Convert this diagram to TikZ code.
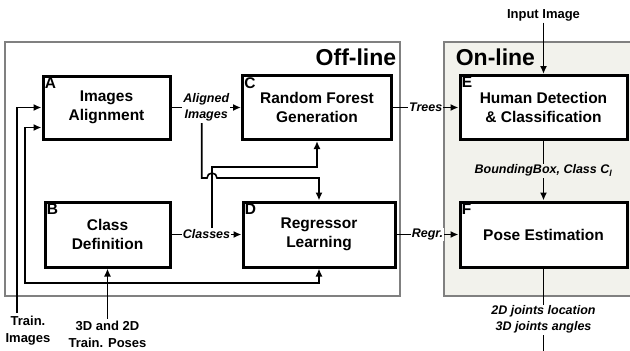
\documentclass[tikz,border=0pt]{standalone}
\usepackage{fontspec}
\setmainfont{Liberation Sans}
\usetikzlibrary{arrows.meta,calc}

\definecolor{framegray}{RGB}{128,128,128}
\definecolor{onfill}{RGB}{242,242,236}

\begin{document}
\begin{tikzpicture}[x=1pt,y=-1pt,>={Latex[length=8pt,width=7pt]},line width=1.6pt,
    block/.style={draw,fill=white,line width=3pt,align=center,inner sep=0pt,
                  font=\fontsize{15.5}{19}\selectfont\bfseries},
    tag/.style={anchor=north west,inner sep=2.5pt,font=\fontsize{15.5}{15}\selectfont\bfseries},
    lbl/.style={fill=white,align=center,inner sep=1pt,
                font=\fontsize{12.5}{16}\selectfont\bfseries\itshape},
    ext/.style={align=center,inner sep=1pt,font=\fontsize{13}{17}\selectfont\bfseries},
    title/.style={inner sep=0pt,font=\fontsize{23}{23}\selectfont\bfseries}]

  \useasboundingbox (0,0) rectangle (630,351);
  \clip (0,0) rectangle (630,351);

  % off-line and on-line frames
  \fill[onfill] (444,42) rectangle (640,296);
  \draw[framegray,line width=1.2pt] (640,42) -- (444,42) -- (444,296) -- (640,296);
  \draw[framegray,line width=1.2pt,fill=white] (5,42) rectangle (400,296);
  \node[title,anchor=base east] (offl) at (397,65) {Off-line};
  \node[title,anchor=base west] (onl)  at (455,65) {On-line};

  \node[block,minimum width=127pt,minimum height=63pt] (A) at (106.5,107.5) {Images\\Alignment};
  \node[block,minimum width=125pt,minimum height=65pt] (B) at (107.5,234.5) {Class\\Definition};
  \node[block,minimum width=149pt,minimum height=64pt] (C) at (317,107.5) {Random Forest\\Generation};
  \node[block,minimum width=152pt,minimum height=65pt] (D) at (319,234.5) {Regressor\\Learning};
  \node[block,minimum width=167pt,minimum height=64pt] (E) at (543.5,107.5) {Human Detection\\\& Classification};
  \node[block,minimum width=167pt,minimum height=65pt] (F) at (543.5,234.5) {Pose Estimation};
  \foreach \b in {A,...,F}
    \node[tag] (t\b) at (\b.north west) {\b};

  \draw[->] (A) -- node[lbl] (ali) {Aligned\\Images} (C);
  \draw[->] (B) -- node[lbl] (cls) {Classes} (D);
  \draw[->] (C) -- node[lbl] (trs) {Trees} (E);
  \draw[->] (D) -- node[lbl] (rgr) {Regr.} (F);

  % branches between the two columns
  \coordinate (hopC) at (212,178);
  \coordinate (dtop) at (319,178);
  \coordinate (cbend) at (317,167);
  \draw[->] ([xshift=-4.5pt]ali.south) |- ($(hopC)+(-5,0)$)
        arc[start angle=180,end angle=360,radius=5] -- (dtop) -- (D.north);
  \draw[->] (cls.north -| hopC) |- (cbend) -- (C.south);

  % training inputs
  \node[ext] (tri) at (28,331) {Train.\\Images};
  \node[ext] (pos) at (107.5,334) {3D and 2D\\Train. Poses};
  \coordinate (tin) at (17,313);
  \coordinate (trl) at (25,283);
  \draw[->] (tin) |- (A.west);
  \draw[<->] ([yshift=-20pt]A.west) -| (trl) -| (D.south);
  \draw[->] (pos) -- (B);

  % on-line chain
  \node[ext] (inp) at (543.5,15) {Input Image};
  \coordinate (out) at (543.5,371);
  \draw[->] (inp) -- (E);
  \draw[->] (E) -- node[lbl,fill=onfill] (bbx) {BoundingBox, Class C\textsubscript{l}} (F);
  \draw (F) -- node[lbl] (res) {2D joints location\\3D joints angles} (out);
\end{tikzpicture}
\end{document}
